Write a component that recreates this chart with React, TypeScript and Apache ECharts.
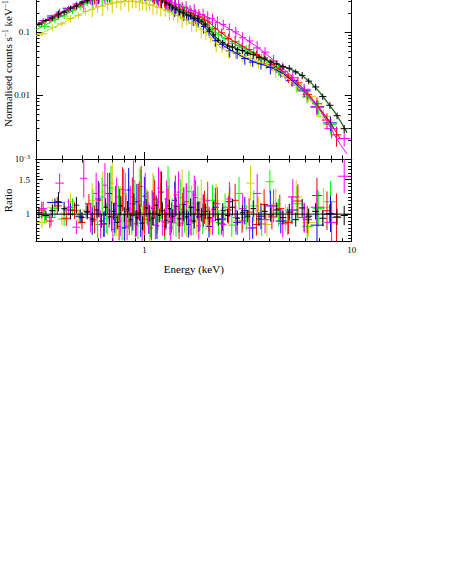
import React, { useEffect, useRef } from 'react';
import * as echarts from 'echarts';

const FONT = '"Liberation Serif", "Times New Roman", serif';

// ---------- data: black ----------
const BLACK_E = [0.31,0.335,0.36,0.385,0.41,0.44,0.47,0.5,0.53,
0.56,0.59,0.62,0.65,0.68,0.71,0.74,0.77,0.8,0.83,
0.86,0.89,0.92,0.95,0.98,1.02,1.06,1.1,1.14,1.18,
1.22,1.27,1.32,1.37,1.42,1.48,1.54,1.6,1.67,1.74,
1.81,1.89,1.97,
2.06,2.16,2.27,2.39,2.52,2.66,2.81,2.97,3.15,3.35,3.57,3.81,4.07,
4.35,4.66,5.0,5.37,5.77,6.2,6.7,7.25,7.85,8.5,9.2];
const BLACK_F = [0.132,0.152,0.165,0.191,0.204,0.238,0.255,0.293,0.31,
0.345,0.352,0.386,0.394,0.425,0.43,0.455,0.452,0.476,0.47,
0.48,0.466,0.463,0.447,0.443,0.416,0.404,0.376,0.363,0.337,
0.323,0.287,0.268,0.238,0.228,0.207,0.2,0.184,0.18,0.165,
0.162,0.145,0.132,
0.108,0.09,0.074,0.068,0.06,0.058,0.053,0.051,0.046,0.044,0.0395,0.0375,0.0336,
0.0314,0.0285,0.0268,0.0235,0.0207,0.0168,0.0136,0.0096,0.007,0.0048,0.003];
const BLACK_R = [1.02,0.98,1.05,1.18,1.08,1.0,1.13,0.95,1.03,
0.93,1.06,0.9,1.1,0.96,1.04,0.88,1.12,0.99,1.07,
0.92,1.15,0.95,1.02,0.87,1.09,1.01,0.94,1.13,0.98,
1.05,0.91,1.08,0.97,1.11,0.93,1.03,0.96,1.1,0.9,
1.06,0.99,1.04,
0.95,1.07,0.92,1.05,0.98,1.1,0.94,1.02,0.97,1.08,0.93,1.04,0.99,
1.06,0.95,1.03,0.92,1.09,0.97,1.04,0.94,1.01,0.96,0.98];
const BLACK_ERR = [0.08,0.07,0.09,0.14,0.1,0.08,0.12,0.08,0.09,
0.1,0.12,0.1,0.13,0.11,0.12,0.1,0.14,0.11,0.12,
0.1,0.15,0.11,0.12,0.1,0.13,0.12,0.11,0.14,0.1,
0.12,0.11,0.13,0.1,0.14,0.11,0.12,0.1,0.13,0.11,
0.12,0.1,0.11,
0.1,0.12,0.09,0.11,0.1,0.12,0.1,0.11,0.09,0.12,0.1,0.11,0.1,
0.11,0.1,0.12,0.1,0.13,0.11,0.12,0.11,0.13,0.12,0.14];

// ---------- data: red ----------
const RED_E = [0.32,0.35,0.38,0.42,0.46,0.5,0.54,
0.575,0.605,0.635,0.665,0.695,0.725,0.755,0.785,0.815,0.845,
0.875,0.905,0.935,0.965,1.0,1.04,1.08,1.12,1.16,1.2,
1.25,1.3,1.35,1.41,1.47,1.53,1.6,1.68,1.76,1.85,
1.95,
2.05,2.2,2.36,2.54,2.74,2.96,3.2,3.47,3.78,4.12,
4.5,4.95,5.5,6.1,6.8,7.6,8.45];
const RED_F = [0.138,0.154,0.186,0.207,0.25,0.274,0.322,
0.34,0.377,0.385,0.418,0.424,0.452,0.449,0.472,0.464,0.478,
0.465,0.47,0.45,0.449,0.425,0.42,0.39,0.379,0.35,0.34,
0.306,0.294,0.266,0.254,0.23,0.224,0.203,0.198,0.18,0.173,
0.154,
0.143,0.112,0.097,0.078,0.07,0.058,0.053,0.044,0.039,0.0305,
0.026,0.019,0.0158,0.0104,0.0074,0.0041,0.0024];
const RED_R = [1.06,0.9,1.12,0.94,1.05,0.88,1.15,
0.92,1.2,0.85,1.3,0.97,1.15,0.82,1.36,1.04,0.9,
1.25,0.86,1.18,1.4,0.93,1.08,0.8,1.22,1.0,1.32,
0.88,1.12,0.95,1.28,0.84,1.07,1.18,0.9,1.24,0.97,
1.1,
0.93,1.16,0.86,1.06,1.2,0.9,1.03,0.85,1.14,0.96,
1.08,0.88,1.19,0.92,1.27,1.05,0.95];
const RED_ERR = [0.12,0.1,0.13,0.11,0.12,0.1,0.14,
0.2,0.25,0.18,0.3,0.22,0.26,0.2,0.32,0.24,0.2,
0.28,0.19,0.26,0.3,0.22,0.25,0.18,0.28,0.23,0.3,
0.2,0.26,0.22,0.28,0.2,0.24,0.27,0.21,0.26,0.22,
0.24,
0.18,0.22,0.16,0.2,0.24,0.17,0.2,0.16,0.22,0.18,
0.2,0.17,0.24,0.2,0.26,0.28,0.35];

// ---------- data: green ----------
const GREEN_E = [0.33,0.37,0.41,0.45,0.49,0.53,
0.565,0.595,0.625,0.655,0.69,0.72,0.75,0.78,0.81,0.84,
0.87,0.9,0.93,0.96,0.99,1.03,1.07,1.11,1.15,1.2,
1.25,1.3,1.36,1.42,1.49,1.56,1.64,1.72,1.81,1.91,
2.01,
2.13,2.28,2.45,2.64,2.86,3.1,3.37,3.68,4.03,4.43,
4.9,5.45,6.1,6.9,7.9];
const GREEN_F = [0.122,0.156,0.178,0.219,0.245,0.29,
0.31,0.346,0.355,0.386,0.395,0.421,0.425,0.446,0.44,0.455,
0.444,0.45,0.436,0.434,0.415,0.405,0.38,0.37,0.34,0.329,
0.296,0.284,0.256,0.244,0.221,0.213,0.192,0.183,0.162,0.152,
0.128,
0.112,0.09,0.079,0.066,0.061,0.052,0.047,0.038,0.0325,0.0255,
0.0205,0.0146,0.0094,0.0066,0.0035];
const GREEN_R = [0.97,1.08,0.93,1.1,0.96,1.04,
1.12,0.85,1.25,0.94,1.38,0.88,1.15,0.8,1.3,1.02,
0.9,1.22,0.83,1.35,0.97,1.1,0.86,1.28,0.92,1.18,
0.82,1.4,1.0,0.87,1.24,0.95,1.33,0.89,1.16,0.93,
1.06,
1.2,0.88,1.1,0.84,1.3,0.95,1.12,0.86,1.47,1.02,
0.9,1.15,0.82,1.08,1.18];
const GREEN_ERR = [0.1,0.12,0.1,0.13,0.11,0.12,
0.24,0.2,0.28,0.22,0.32,0.2,0.26,0.18,0.3,0.24,
0.2,0.27,0.19,0.3,0.22,0.25,0.2,0.28,0.21,0.26,
0.19,0.3,0.23,0.2,0.27,0.22,0.3,0.2,0.25,0.22,
0.24,
0.22,0.18,0.2,0.17,0.24,0.18,0.22,0.18,0.17,0.2,
0.2,0.24,0.2,0.26,0.3];

// ---------- data: blue ----------
const BLUE_E = [0.37,0.44,0.49,0.53,
0.56,0.6,0.64,0.68,0.72,0.76,0.8,0.84,0.88,0.92,
0.96,1.0,1.05,1.1,1.15,1.21,1.27,1.33,1.4,1.47,
1.55,1.63,1.72,1.82,1.93,
2.05,2.2,2.38,2.58,2.8,3.05,3.33,3.65,4.05,4.55,
5.15,5.9,6.8,7.9];
const BLUE_F = [0.178,0.236,0.276,0.31,
0.33,0.37,0.385,0.416,0.425,0.45,0.448,0.466,0.455,0.456,
0.435,0.43,0.396,0.384,0.35,0.33,0.29,0.27,0.236,0.224,
0.197,0.185,0.162,0.15,0.122,
0.102,0.073,0.064,0.051,0.046,0.038,0.0335,0.0315,0.0275,0.0235,
0.0172,0.0118,0.0066,0.0037];
const BLUE_R = [1.17,1.06,0.97,1.04,
0.9,1.22,0.86,1.3,0.95,1.12,0.8,1.35,0.98,1.18,
0.87,1.26,0.92,1.08,0.83,1.32,1.0,0.89,1.2,0.94,
1.14,0.85,1.1,0.96,1.05,
0.82,1.1,0.93,1.18,0.88,1.05,0.8,0.97,1.12,0.9,
1.06,0.95,0.84,1.0];
const BLUE_ERR = [0.06,0.1,0.1,0.11,
0.2,0.26,0.19,0.3,0.22,0.25,0.18,0.32,0.22,0.26,
0.2,0.28,0.21,0.24,0.19,0.3,0.23,0.2,0.27,0.21,
0.25,0.19,0.24,0.22,0.23,
0.16,0.2,0.17,0.22,0.18,0.2,0.16,0.19,0.22,0.18,
0.2,0.2,0.24,0.26];

// ---------- data: magenta ----------
const MAGENTA_E = [0.325,0.355,0.39,0.43,0.47,0.51,
0.55,0.585,0.615,0.645,0.675,0.705,0.735,0.765,0.795,0.825,
0.855,0.885,0.915,0.945,0.975,1.01,1.05,1.09,1.13,1.17,
1.22,1.28,1.34,1.4,1.46,1.52,1.59,1.66,1.74,1.83,
1.92,2.02,
2.13,2.25,2.4,2.57,2.76,2.98,3.22,3.5,3.82,4.2,
4.65,5.2,5.9,6.8,8.0,9.2];
const MAGENTA_F = [0.151,0.168,0.204,0.231,0.275,0.3,
0.345,0.364,0.396,0.405,0.436,0.44,0.466,0.463,0.485,0.476,
0.49,0.472,0.476,0.454,0.455,0.428,0.424,0.394,0.388,0.358,
0.351,0.316,0.306,0.276,0.271,0.246,0.242,0.219,0.215,0.191,
0.187,0.166,
0.162,0.141,0.131,0.109,0.1,0.081,0.072,0.056,0.048,0.035,
0.0275,0.019,0.0125,0.0066,0.003,0.0021];
const MAGENTA_R = [1.08,0.95,1.45,1.1,0.81,1.52,
0.95,1.3,0.85,1.42,1.05,0.78,1.25,0.9,1.35,0.82,
1.15,1.48,0.88,1.2,0.8,1.3,0.95,1.1,0.84,1.38,
0.9,1.22,0.8,1.12,1.32,0.87,1.18,0.92,1.28,0.83,
1.05,1.2,
0.9,1.15,0.85,1.22,0.95,1.08,0.8,1.3,0.92,1.12,
0.86,1.25,0.95,1.1,0.88,1.55];
const MAGENTA_ERR = [0.1,0.12,0.14,0.12,0.1,0.28,
0.22,0.3,0.2,0.32,0.25,0.2,0.28,0.22,0.3,0.2,
0.26,0.3,0.2,0.27,0.19,0.3,0.22,0.25,0.2,0.3,
0.21,0.27,0.19,0.25,0.3,0.2,0.26,0.22,0.28,0.2,
0.24,0.27,
0.2,0.24,0.18,0.25,0.2,0.22,0.18,0.28,0.2,0.24,
0.2,0.26,0.22,0.26,0.3,0.25];

// ---------- data: yellow ----------
const YELLOW_E = [0.32,0.36,0.4,0.44,0.48,0.52,
0.56,0.595,0.63,0.665,0.7,0.735,0.77,0.805,0.84,0.875,
0.91,0.945,0.98,1.02,1.06,1.1,1.15,1.2,1.26,1.32,
1.38,1.45,1.52,1.6,1.69,1.78,1.88,1.98,
2.09,2.22,2.37,2.55,2.75,2.98,3.25,3.55,3.9,4.3,
4.8,5.4,6.2,7.3];
const YELLOW_F = [0.093,0.118,0.134,0.163,0.182,0.211,
0.226,0.249,0.255,0.277,0.279,0.297,0.293,0.308,0.299,0.309,
0.295,0.3,0.283,0.285,0.265,0.264,0.243,0.24,0.218,0.21,
0.19,0.183,0.164,0.157,0.137,0.129,0.109,0.098,
0.082,0.063,0.057,0.049,0.047,0.041,0.0385,0.0335,0.0305,0.0245,
0.0198,0.0145,0.0097,0.0047];
const YELLOW_R = [0.88,1.1,0.93,1.18,0.96,1.06,
1.2,0.85,1.32,0.92,1.45,0.88,1.15,0.8,1.28,1.02,
0.86,1.38,0.9,1.12,0.78,1.3,0.95,1.18,0.84,1.25,
0.9,1.08,1.35,0.87,1.16,0.93,1.22,1.0,
0.88,1.2,0.92,1.1,0.9,0.95,1.45,1.05,0.85,1.15,
0.95,1.25,0.88,1.1];
const YELLOW_ERR = [0.08,0.12,0.1,0.13,0.11,0.12,
0.25,0.2,0.3,0.22,0.3,0.2,0.26,0.19,0.3,0.24,
0.2,0.3,0.21,0.26,0.18,0.3,0.22,0.27,0.2,0.28,
0.21,0.24,0.3,0.2,0.26,0.22,0.28,0.23,
0.18,0.24,0.18,0.22,0.2,0.18,0.25,0.2,0.17,0.22,
0.19,0.24,0.2,0.28];

// ---------- folded models ----------
const MODEL_E = [0.3,0.35,0.4,0.45,0.5,0.55,0.6,0.7,0.8,0.9,
1.0,1.1,1.2,1.35,1.5,1.65,1.8,1.9,2.0,2.1,
2.2,2.35,2.5,2.75,3.0,3.4,3.8,4.2,4.7,5.2,
5.8,6.4,7.0,7.6,8.2,8.8,9.5];
const BLACK_MODEL = [0.127,0.16,0.2,0.241,0.288,0.332,0.367,0.43,0.47,0.468,
0.43,0.38,0.33,0.25,0.205,0.18,0.161,0.147,0.122,0.1,
0.083,0.07,0.062,0.055,0.0495,0.043,0.0372,0.0325,0.0285,0.025,
0.0203,0.0155,0.0113,0.0079,0.0057,0.004,0.0026];
const RED_MODEL = [0.125,0.158,0.197,0.237,0.28,0.324,0.365,0.432,0.468,0.466,
0.43,0.385,0.335,0.27,0.228,0.2,0.177,0.165,0.15,0.132,
0.115,0.097,0.083,0.069,0.059,0.046,0.038,0.03,0.0232,0.0178,
0.0132,0.0092,0.0064,0.0043,0.003,0.0021,null];
const GREEN_MODEL = [0.108,0.14,0.175,0.215,0.258,0.302,0.343,0.405,0.443,0.445,
0.415,0.37,0.325,0.262,0.222,0.193,0.167,0.152,0.135,0.116,
0.1,0.086,0.075,0.064,0.056,0.046,0.0375,0.0295,0.0225,0.0168,
0.0118,0.0081,0.0059,0.0041,0.0029,null,null];
const BLUE_MODEL = [null,0.162,0.2,0.243,0.288,0.328,0.367,0.425,0.455,0.455,
0.425,0.38,0.33,0.258,0.21,0.178,0.151,0.131,0.11,0.09,
0.075,0.064,0.056,0.047,0.04,0.0333,0.0298,0.0265,0.0218,0.0168,
0.0122,0.0088,0.0062,0.0044,0.0031,null,null];
const MAGENTA_MODEL = [0.128,0.168,0.208,0.252,0.296,0.34,0.38,0.443,0.478,0.475,
0.438,0.396,0.353,0.297,0.256,0.226,0.2,0.186,0.172,0.161,
0.15,0.133,0.118,0.098,0.082,0.062,0.047,0.036,0.0265,0.0193,
0.0128,0.0088,0.006,0.0039,0.0025,0.0017,0.0012];
const YELLOW_MODEL = [0.087,0.11,0.136,0.166,0.196,0.225,0.248,0.283,0.302,0.301,
0.284,0.26,0.236,0.2,0.17,0.146,0.124,0.109,0.093,0.079,
0.067,0.057,0.051,0.046,0.042,0.036,0.031,0.026,0.0205,0.0161,
0.0118,0.0085,0.0058,0.0042,null,null,null];

// ---------- axes ----------
const X_MIN = 0.3;
const X_MAX = 10;
const X_MAJOR = [1, 10];
const X_MINOR = [0.3, 0.4, 0.5, 0.6, 0.7, 0.8, 0.9, 2, 3, 4, 5, 6, 7, 8, 9];
const X_LABELS = [1, 10];
const Y_MIN = 0.001;
const Y_MAX = 0.318;
const Y_MAJOR = [0.001, 0.01, 0.1];
const Y_LABELS = [0.001, 0.01, 0.1];
const RATIO_MIN = 0.6;
const RATIO_MAX = 1.8;
const RATIO_MAJOR = [1, 1.5];
const RATIO_UNITY = 1;

const Y_MINOR: number[] = [];
[0.001, 0.01, 0.1].forEach((d) => {
  for (let k = 2; k <= 9; k++) {
    const v = +(k * d).toPrecision(3);
    if (v <= Y_MAX) Y_MINOR.push(v);
  }
});
const RATIO_MINOR: number[] = [];
for (let i = 0; i <= 24; i++) RATIO_MINOR.push(+(0.6 + i * 0.05).toFixed(2));

type DS = { color: string; modelColor: string; E: number[]; F: number[]; R: number[]; err: number[]; model: (number | null)[] };

const YELLOW: DS = { color: '#d8cc00', modelColor: '#d8cc00', E: YELLOW_E, F: YELLOW_F, R: YELLOW_R, err: YELLOW_ERR, model: YELLOW_MODEL };
const GREEN: DS = { color: '#00ff00', modelColor: '#00e000', E: GREEN_E, F: GREEN_F, R: GREEN_R, err: GREEN_ERR, model: GREEN_MODEL };
const BLUE: DS = { color: '#0000ff', modelColor: '#0000ff', E: BLUE_E, F: BLUE_F, R: BLUE_R, err: BLUE_ERR, model: BLUE_MODEL };
const RED: DS = { color: '#ff0000', modelColor: '#ff0000', E: RED_E, F: RED_F, R: RED_R, err: RED_ERR, model: RED_MODEL };
const MAGENTA: DS = { color: '#ff00ff', modelColor: '#ff00ff', E: MAGENTA_E, F: MAGENTA_F, R: MAGENTA_R, err: MAGENTA_ERR, model: MAGENTA_MODEL };
const BLACK: DS = { color: '#000000', modelColor: '#17661a', E: BLACK_E, F: BLACK_F, R: BLACK_R, err: BLACK_ERR, model: BLACK_MODEL };

const COLOURED = [YELLOW, GREEN, BLUE, RED, MAGENTA];

function binEdges(E: number[]) {
  return E.map((e, i) => {
    const prev = i > 0 ? E[i - 1] : (e * e) / E[i + 1];
    const next = i < E.length - 1 ? E[i + 1] : (e * e) / E[i - 1];
    return [Math.sqrt(prev * e), Math.sqrt(e * next)];
  });
}

function crossSeries(rows: number[][], color: string, xi: number, yi: number, z: number) {
  return {
    type: 'custom',
    xAxisIndex: xi,
    yAxisIndex: yi,
    clip: true,
    silent: true,
    z,
    data: rows,
    encode: { x: 0, y: 3 },
    renderItem: (_p: any, api: any) => {
      const e = api.value(0);
      const lo = api.value(1);
      const hi = api.value(2);
      const v = api.value(3);
      const vlo = api.value(4);
      const vhi = api.value(5);
      const a = api.coord([lo, v]);
      const b = api.coord([hi, v]);
      const c = api.coord([e, vlo]);
      const d = api.coord([e, vhi]);
      const style = { stroke: color, lineWidth: 1 };
      return {
        type: 'group',
        children: [
          { type: 'line', shape: { x1: a[0], y1: a[1], x2: b[0], y2: b[1] }, style },
          { type: 'line', shape: { x1: c[0], y1: c[1], x2: d[0], y2: d[1] }, style },
        ],
      };
    },
  };
}

function spectrumRows(ds: DS) {
  const edges = binEdges(ds.E);
  return ds.E.map((e, i) => [e, edges[i][0], edges[i][1], ds.F[i], ds.F[i] * (1 - ds.err[i]), ds.F[i] * (1 + ds.err[i])]);
}
function ratioRows(ds: DS) {
  const edges = binEdges(ds.E);
  return ds.E.map((e, i) => [e, edges[i][0], edges[i][1], ds.R[i], ds.R[i] - ds.err[i], ds.R[i] + ds.err[i]]);
}
function modelSeries(ds: DS, z: number, width: number) {
  return {
    type: 'line',
    xAxisIndex: 0,
    yAxisIndex: 0,
    data: MODEL_E.map((e, i) => [e, ds.model[i]]),
    showSymbol: false,
    symbol: 'none',
    connectNulls: false,
    silent: true,
    clip: true,
    z,
    lineStyle: { color: ds.modelColor, width },
  };
}

const GRID_LEFT = 36;
const GRID_RIGHT = 98.3;

const tick = (vals: number[], len: number) => ({
  show: true,
  inside: true,
  length: len,
  customValues: vals,
  lineStyle: { color: '#000', width: 1 },
});
const line = (show: boolean) => ({ show, lineStyle: { color: '#000', width: 1 } });

function xAxis(gridIndex: number, position: string, ticks: number[], len: number, showLine: boolean, extra: any = {}) {
  return {
    type: 'log',
    logBase: 10,
    min: X_MIN,
    max: X_MAX,
    gridIndex,
    position,
    axisLine: line(showLine),
    axisTick: tick(ticks, len),
    axisLabel: { show: false },
    splitLine: { show: false },
    ...extra,
  };
}
function yLogAxis(position: string, ticks: number[], len: number, showLine: boolean, extra: any = {}) {
  return {
    type: 'log',
    logBase: 10,
    min: Y_MIN,
    max: Y_MAX,
    gridIndex: 0,
    position,
    axisLine: line(showLine),
    axisTick: tick(ticks, len),
    axisLabel: { show: false },
    splitLine: { show: false },
    ...extra,
  };
}
function yRatioAxis(position: string, ticks: number[], len: number, showLine: boolean, extra: any = {}) {
  return {
    type: 'value',
    min: RATIO_MIN,
    max: RATIO_MAX,
    gridIndex: 1,
    position,
    axisLine: line(showLine),
    axisTick: tick(ticks, len),
    axisLabel: { show: false },
    splitLine: { show: false },
    ...extra,
  };
}

function buildOption() {
  const series: any[] = [];
  COLOURED.forEach((ds, i) => series.push(crossSeries(spectrumRows(ds), ds.color, 0, 0, 2 + i)));
  COLOURED.forEach((ds, i) => series.push(modelSeries(ds, 8 + i, 1)));
  series.push(modelSeries(BLACK, 14, 1.3));
  series.push(crossSeries(spectrumRows(BLACK), BLACK.color, 0, 0, 15));

  COLOURED.forEach((ds, i) => series.push(crossSeries(ratioRows(ds), ds.color, 2, 4, 2 + i)));
  series.push(crossSeries(ratioRows(BLACK), BLACK.color, 2, 4, 15));
  series.push({
    type: 'line',
    xAxisIndex: 2,
    yAxisIndex: 4,
    data: [[X_MIN, RATIO_UNITY], [X_MAX, RATIO_UNITY]],
    showSymbol: false,
    symbol: 'none',
    silent: true,
    z: 16,
    lineStyle: { color: '#000', width: 1 },
  });

  const labelText = { color: '#000', fontFamily: FONT, fontSize: 9 };

  return {
    animation: false,
    backgroundColor: '#fff',
    textStyle: { fontFamily: FONT },
    grid: [
      { left: GRID_LEFT, right: GRID_RIGHT, top: 0, height: 159 },
      { left: GRID_LEFT, right: GRID_RIGHT, top: 159, height: 82.7 },
    ],
    graphic: [
      {
        type: 'text',
        x: 8,
        y: 127,
        rotation: Math.PI / 2,
        silent: true,
        style: {
          text: '{a|Normalised counts s}{s|−1}{a| keV}{s|−1}',
          align: 'left',
          verticalAlign: 'middle',
          fill: '#000',
          font: `11px ${FONT}`,
          rich: {
            a: { fontFamily: FONT, fontSize: 11, fill: '#000', lineHeight: 14 },
            s: { fontFamily: FONT, fontSize: 7.5, fill: '#000', lineHeight: 14, verticalAlign: 'top', padding: [0, 0, 4, 0] },
          },
        },
      },
      {
        type: 'text',
        x: 8,
        y: 200.4,
        rotation: Math.PI / 2,
        silent: true,
        style: {
          text: 'Ratio',
          align: 'center',
          verticalAlign: 'middle',
          fill: '#000',
          font: `11px ${FONT}`,
        },
      },
    ],
    xAxis: [
      xAxis(0, 'bottom', X_MAJOR, 7, true),
      xAxis(0, 'bottom', X_MINOR, 3.5, false),
      xAxis(1, 'bottom', X_MAJOR, 7, true, {
        axisLabel: { show: true, customValues: X_LABELS, margin: 4, ...labelText, formatter: (v: number) => String(Math.round(v)) },
        name: 'Energy (keV)',
        nameLocation: 'middle',
        nameGap: 22,
        nameTextStyle: { color: '#000', fontFamily: FONT, fontSize: 11 },
      }),
      xAxis(1, 'bottom', X_MINOR, 3.5, false),
      xAxis(1, 'top', X_MAJOR, 7, true),
      xAxis(1, 'top', X_MINOR, 3.5, false),
    ],
    yAxis: [
      yLogAxis('left', Y_MAJOR, 7, true, {
        axisLabel: {
          show: true,
          customValues: Y_LABELS,
          margin: 6,
          ...labelText,
          formatter: (v: number) => {
            if (Math.abs(v - 0.001) < 1e-6) return '{b|10}{s|−3}';
            if (Math.abs(v - 0.01) < 1e-5) return '{b|0.01}';
            if (Math.abs(v - 0.1) < 1e-4) return '{b|0.1}';
            return '';
          },
          rich: {
            b: { fontFamily: FONT, fontSize: 9, color: '#000', lineHeight: 11 },
            s: { fontFamily: FONT, fontSize: 6, color: '#000', lineHeight: 11, verticalAlign: 'top', padding: [0, 0, 3, 0] },
          },
        },
      }),
      yLogAxis('left', Y_MINOR, 3.5, false),
      yLogAxis('right', Y_MAJOR, 7, true),
      yLogAxis('right', Y_MINOR, 3.5, false),
      yRatioAxis('left', RATIO_MAJOR, 7, true, {
        axisLabel: { show: true, customValues: RATIO_MAJOR, margin: 6, ...labelText },
      }),
      yRatioAxis('left', RATIO_MINOR, 3.5, false),
      yRatioAxis('right', RATIO_MAJOR, 7, true),
      yRatioAxis('right', RATIO_MINOR, 3.5, false),
    ],
    series,
  };
}

export default function App() {
  const ref = useRef<HTMLDivElement>(null);
  useEffect(() => {
    document.body.style.margin = '0';
    if (!ref.current) return;
    const chart = echarts.init(ref.current, null, { renderer: 'svg' });
    chart.setOption(buildOption() as any);
    return () => chart.dispose();
  }, []);
  return <div ref={ref} style={{ width: 450, height: 583 }} />;
}
